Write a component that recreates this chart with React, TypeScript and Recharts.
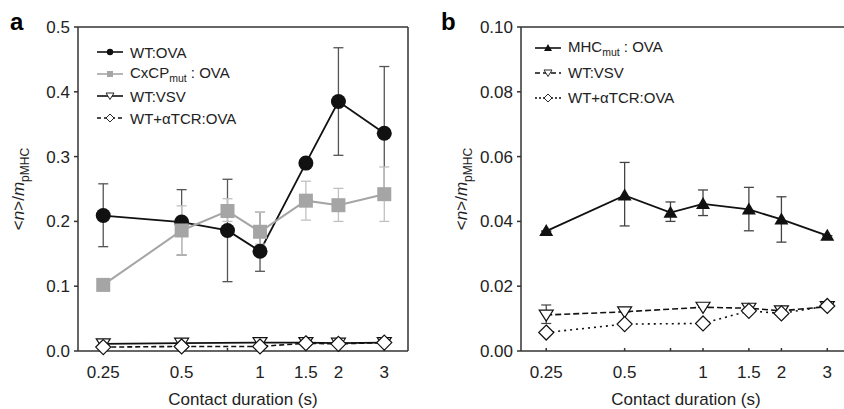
import React from "react";
import { LineChart, Line, XAxis, YAxis, ErrorBar, ReferenceLine, Legend, Label } from "recharts";

const FONT = '"Liberation Sans", Arial, sans-serif';

// contact durations (s)
const durations = [0.25, 0.5, 0.75, 1, 1.5, 2, 3];
const durationsSparse = [0.25, 0.5, 1, 1.5, 2, 3];
const xTicks = [0.25, 0.5, 0.75, 1, 1.5, 2, 3];
const xTickLabels = ["0.25", "0.5", "", "1", "1.5", "2", "3"];
const yTicksA = [0, 0.1, 0.2, 0.3, 0.4, 0.5];
const yTicksB = [0, 0.02, 0.04, 0.06, 0.08, 0.1];

// panel a
const wtOva = [0.209, 0.199, 0.186, 0.154, 0.29, 0.385, 0.336];
const wtOvaHi = [0.258, 0.249, 0.265, 0.214, 0.29, 0.468, 0.439];
const wtOvaLo = [0.161, 0.148, 0.107, 0.123, 0.29, 0.302, 0.233];
const cxcpOva = [0.102, 0.186, 0.216, 0.184, 0.232, 0.225, 0.242];
const cxcpOvaHi = [0.102, 0.224, 0.235, 0.214, 0.262, 0.251, 0.284];
const cxcpOvaLo = [0.102, 0.148, 0.2, 0.165, 0.202, 0.2, 0.2];
const wtVsvA = [0.011, 0.012, 0.013, 0.013, 0.012, 0.013];
const wtTcrA = [0.006, 0.007, 0.007, 0.012, 0.011, 0.013];

// panel b
const mhcOva = [0.037, 0.048, 0.0427, 0.0454, 0.0437, 0.0406, 0.0356];
const mhcOvaHi = [0.037, 0.0582, 0.046, 0.0497, 0.0505, 0.0476, 0.0356];
const mhcOvaLo = [0.037, 0.0386, 0.04, 0.0418, 0.0371, 0.0336, 0.0356];
const wtVsvB = [0.0111, 0.0121, 0.0135, 0.0132, 0.0124, 0.0137];
const wtVsvBHi = [0.0142, 0.0121, 0.0135, 0.0132, 0.0124, 0.0137];
const wtVsvBLo = [0.0085, 0.0121, 0.0135, 0.0132, 0.0124, 0.0137];
const wtTcrB = [0.0057, 0.0083, 0.0085, 0.0124, 0.0116, 0.0139];

function toRows(xs: number[], ys: number[], hi?: number[], lo?: number[]) {
  return xs.map((x, i) => ({
    x,
    y: ys[i],
    err: hi && lo ? [ys[i] - lo[i], hi[i] - ys[i]] : [0, 0],
  }));
}

const circleDot = (p: any) => <circle key={`c${p.index}`} cx={p.cx} cy={p.cy} r={7.5} fill="#111" />;
const squareDot = (p: any) => (
  <rect key={`s${p.index}`} x={p.cx - 7} y={p.cy - 7} width={14} height={14} fill="#a5a5a5" />
);
const downTri = (p: any) => (
  <polygon
    key={`t${p.index}`}
    points={`${p.cx - 7},${p.cy - 5} ${p.cx + 7},${p.cy - 5} ${p.cx},${p.cy + 6}`}
    fill="#fff"
    stroke="#111"
    strokeWidth={1.2}
  />
);
const upTriFilled = (p: any) => (
  <polygon
    key={`u${p.index}`}
    points={`${p.cx - 7},${p.cy + 5} ${p.cx + 7},${p.cy + 5} ${p.cx},${p.cy - 7}`}
    fill="#111"
  />
);
const diamond = (p: any) => (
  <polygon
    key={`d${p.index}`}
    points={`${p.cx},${p.cy - 7.5} ${p.cx + 7.5},${p.cy} ${p.cx},${p.cy + 7.5} ${p.cx - 7.5},${p.cy}`}
    fill="#fff"
    stroke="#111"
    strokeWidth={1.2}
  />
);

type Mark = "circle" | "square" | "down" | "up" | "diamond";
interface LegendRow {
  label: React.ReactNode;
  color: string;
  dash?: string;
  mark: Mark;
}

function MiniMark({ mark, color }: { mark: Mark; color: string }) {
  const cx = 13;
  const cy = 6;
  if (mark === "circle") return <circle cx={cx} cy={cy} r={3.2} fill={color} />;
  if (mark === "square") return <rect x={cx - 3} y={cy - 3} width={6} height={6} fill={color} />;
  if (mark === "down")
    return (
      <polygon points={`${cx - 4},${cy - 3} ${cx + 4},${cy - 3} ${cx},${cy + 3.5}`} fill="#fff" stroke="#111" strokeWidth={0.9} />
    );
  if (mark === "up") return <polygon points={`${cx - 4},${cy + 3} ${cx + 4},${cy + 3} ${cx},${cy - 4}`} fill={color} />;
  return (
    <polygon points={`${cx},${cy - 4} ${cx + 4},${cy} ${cx},${cy + 4} ${cx - 4},${cy}`} fill="#fff" stroke="#111" strokeWidth={0.9} />
  );
}

function makeLegend(rows: LegendRow[], rowHeight: number) {
  return () => (
    <div style={{ fontFamily: FONT, fontSize: 15, color: "#222" }}>
      {rows.map((r, i) => (
        <div key={i} style={{ display: "flex", alignItems: "center", height: rowHeight }}>
          <svg width={26} height={12}>
            <line x1={0} y1={6} x2={26} y2={6} stroke={r.color} strokeWidth={1.6} strokeDasharray={r.dash} />
            <MiniMark mark={r.mark} color={r.color} />
          </svg>
          <span style={{ marginLeft: 7, whiteSpace: "nowrap" }}>{r.label}</span>
        </div>
      ))}
    </div>
  );
}

const sub = (t: string) => <sub style={{ fontSize: 10.5, verticalAlign: "-4px" }}>{t}</sub>;

const legendA: LegendRow[] = [
  { label: "WT:OVA", color: "#111", mark: "circle" },
  { label: <>CxCP{sub("mut")} : OVA</>, color: "#a5a5a5", mark: "square" },
  { label: "WT:VSV", color: "#111", mark: "down" },
  { label: "WT+αTCR:OVA", color: "#111", dash: "4 3", mark: "diamond" },
];
const legendB: LegendRow[] = [
  { label: <>MHC{sub("mut")} : OVA</>, color: "#111", mark: "up" },
  { label: "WT:VSV", color: "#111", dash: "5 3", mark: "down" },
  { label: "WT+αTCR:OVA", color: "#111", dash: "2 2", mark: "diamond" },
];

const yLabel = (props: any) => {
  const vb = props.viewBox;
  const x = vb.x + vb.width - 54;
  const cy = vb.y + vb.height / 2;
  return (
    <text
      transform={`rotate(-90 ${x} ${cy})`}
      x={x}
      y={cy}
      textAnchor="middle"
      fontFamily={FONT}
      fontSize={17}
      fill="#222"
    >
      <tspan>&lt;</tspan>
      <tspan fontStyle="italic">n</tspan>
      <tspan>&gt;/</tspan>
      <tspan fontStyle="italic">m</tspan>
      <tspan fontSize={12} dy={5}>
        pMHC
      </tspan>
    </text>
  );
};

const xLabel = (props: any) => {
  const vb = props.viewBox;
  return (
    <text x={vb.x + vb.width / 2} y={405} textAnchor="middle" fontFamily={FONT} fontSize={17} fill="#222">
      Contact duration (s)
    </text>
  );
};

const axisStroke = { stroke: "#333", strokeWidth: 1.5 };
const tickStyle = { fill: "#222", fontSize: 17, fontFamily: FONT };

function Panel({
  left,
  width,
  yAxisWidth,
  rightMargin,
  yTicks,
  yMax,
  digits,
  legendLeft,
  legendTop,
  legend,
  children,
}: any) {
  return (
    <div style={{ position: "absolute", left, top: 0 }}>
      <LineChart width={width} height={409} margin={{ top: 27, right: rightMargin, bottom: 18, left: 0 }}>
        <XAxis
          dataKey="x"
          type="number"
          scale="log"
          domain={[0.2, 3.7]}
          allowDataOverflow
          ticks={xTicks}
          interval={0}
          tickFormatter={(v: number) => xTickLabels[xTicks.indexOf(v)] ?? ""}
          tick={tickStyle}
          tickSize={-3}
          tickMargin={18}
          height={40}
          axisLine={axisStroke}
          tickLine={axisStroke}
        >
          <Label content={xLabel} />
        </XAxis>
        <YAxis
          type="number"
          domain={[0, yMax]}
          ticks={yTicks}
          interval={0}
          width={yAxisWidth}
          tickFormatter={(v: number) => v.toFixed(digits)}
          tick={tickStyle}
          tickSize={4}
          tickMargin={4}
          axisLine={axisStroke}
          tickLine={axisStroke}
        >
          <Label content={yLabel} />
        </YAxis>
        <ReferenceLine y={yMax} stroke="#333" strokeWidth={1.5} />
        <ReferenceLine x={3.7} stroke="#333" strokeWidth={1.5} />
        <Legend
          layout="vertical"
          align="center"
          verticalAlign="middle"
          wrapperStyle={{ left: legendLeft, top: legendTop, width: "auto" }}
          content={legend}
        />
        {children}
      </LineChart>
    </div>
  );
}

export default function App() {
  return (
    <div
      style={{
        position: "absolute",
        left: 0,
        top: 0,
        width: 844,
        height: 409,
        overflow: "hidden",
        background: "#fff",
        fontFamily: FONT,
      }}
    >
      <Panel
        left={0}
        width={422}
        yAxisWidth={78}
        rightMargin={14}
        yTicks={yTicksA}
        yMax={0.5}
        digits={1}
        legendLeft={97}
        legendTop={41}
        legend={makeLegend(legendA, 22)}
      >
        <Line
          data={toRows(durations, wtOva, wtOvaHi, wtOvaLo)}
          dataKey="y"
          stroke="#111"
          strokeWidth={1.8}
          dot={circleDot}
          activeDot={false}
          isAnimationActive={false}
        >
          <ErrorBar dataKey="err" width={5} stroke="#555" strokeWidth={1.3} direction="y" />
        </Line>
        <Line
          data={toRows(durations, cxcpOva, cxcpOvaHi, cxcpOvaLo)}
          dataKey="y"
          stroke="#a5a5a5"
          strokeWidth={2}
          dot={squareDot}
          activeDot={false}
          isAnimationActive={false}
        >
          <ErrorBar dataKey="err" width={5} stroke="#c0c0c0" strokeWidth={1.3} direction="y" />
        </Line>
        <Line
          data={toRows(durationsSparse, wtVsvA)}
          dataKey="y"
          stroke="#111"
          strokeWidth={1.8}
          dot={downTri}
          activeDot={false}
          isAnimationActive={false}
        />
        <Line
          data={toRows(durationsSparse, wtTcrA)}
          dataKey="y"
          stroke="#111"
          strokeWidth={1.6}
          strokeDasharray="5 3"
          dot={diamond}
          activeDot={false}
          isAnimationActive={false}
        />
      </Panel>
      <Panel
        left={422}
        width={440}
        yAxisWidth={99}
        rightMargin={11}
        yTicks={yTicksB}
        yMax={0.1}
        digits={2}
        legendLeft={113}
        legendTop={35}
        legend={makeLegend(legendB, 25)}
      >
        <Line
          data={toRows(durations, mhcOva, mhcOvaHi, mhcOvaLo)}
          dataKey="y"
          stroke="#111"
          strokeWidth={1.8}
          dot={upTriFilled}
          activeDot={false}
          isAnimationActive={false}
        >
          <ErrorBar dataKey="err" width={5} stroke="#444" strokeWidth={1.3} direction="y" />
        </Line>
        <Line
          data={toRows(durationsSparse, wtVsvB, wtVsvBHi, wtVsvBLo)}
          dataKey="y"
          stroke="#111"
          strokeWidth={1.6}
          strokeDasharray="6 3"
          dot={downTri}
          activeDot={false}
          isAnimationActive={false}
        >
          <ErrorBar dataKey="err" width={5} stroke="#444" strokeWidth={1.2} direction="y" />
        </Line>
        <Line
          data={toRows(durationsSparse, wtTcrB)}
          dataKey="y"
          stroke="#111"
          strokeWidth={1.6}
          strokeDasharray="2 4"
          dot={diamond}
          activeDot={false}
          isAnimationActive={false}
        />
      </Panel>
      <div style={{ position: "absolute", left: 10, top: 10, fontSize: 24, fontWeight: 700, lineHeight: "24px" }}>a</div>
      <div style={{ position: "absolute", left: 441, top: 10, fontSize: 24, fontWeight: 700, lineHeight: "24px" }}>b</div>
    </div>
  );
}
